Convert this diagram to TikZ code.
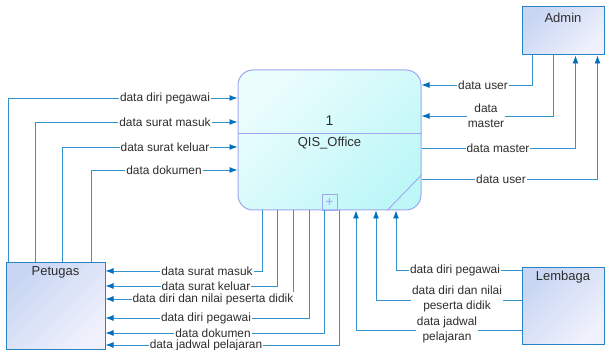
\documentclass[tikz,border=0pt]{standalone}
\usepackage{fontspec}
\setmainfont{Liberation Sans}
\usetikzlibrary{arrows.meta,calc}

\definecolor{flowblue}{RGB}{52,146,206}
\definecolor{tipblue}{RGB}{0,110,190}
\definecolor{textgray}{RGB}{45,45,45}
\definecolor{entborder}{RGB}{40,130,195}
\definecolor{entlight}{RGB}{200,214,243}
\definecolor{entpale}{RGB}{240,241,252}
\definecolor{procborder}{RGB}{160,166,242}
\definecolor{proclight}{RGB}{236,253,253}
\definecolor{procdark}{RGB}{190,247,248}

\tikzset{
	flow/.style={draw=flowblue, line width=0.9pt, -{Latex[length=8pt,width=6pt,color=tipblue]}},
	lbl/.style={fill=white, inner sep=1pt, text=textgray, align=center, font=\fontsize{11.9}{14.5}\selectfont},
	entity/.style={draw=entborder, line width=1pt, top color=entlight, bottom color=entpale, shading angle=45, inner sep=0pt},
	process/.style={draw=procborder, line width=1pt, rounded corners=15pt, top color=proclight, bottom color=procdark, shading angle=45, inner sep=0pt},
	procline/.style={draw=procborder, line width=0.9pt},
	bigtext/.style={text=textgray, inner sep=0pt, font=\fontsize{13}{15}\selectfont}
}

\begin{document}
\begin{tikzpicture}[x=1pt,y=-1pt]
			%%%%% START %%%%%
			\useasboundingbox (0,0) rectangle (606,350);
			
			% process
			\node[process, minimum width=183pt, minimum height=140pt] (proc) at (329.5,140) {};
			\draw[procline] (proc.west |- 0,133) -- (proc.east |- 0,133);
			\draw[procline] (proc.south -| 387,0) -- (proc.east |- 0,175);
			\node[bigtext, font=\fontsize{14}{16}\selectfont] (proc-id) at (329.5,121) {1};
			\node[bigtext] (proc-name) at (329.5,143) {QIS\_Office};
			\node[draw=procborder, line width=0.8pt, minimum width=15pt, minimum height=16pt, inner sep=0pt, text=procborder, font=\fontsize{14}{14}\selectfont] (proc-plus) at (329.5,202) {+};
			
			% entities
			\node[entity, minimum width=82pt, minimum height=48pt] (admin) at (563,31) {};
			\node[bigtext] (admin-name) at (563,18) {Admin};
			\node[entity, minimum width=99pt, minimum height=86pt] (pet) at (55.5,306) {};
			\node[bigtext] (pet-name) at (55.5,272) {Petugas};
			\node[entity, minimum width=82pt, minimum height=76pt] (lem) at (563,306) {};
			\node[bigtext] (lem-name) at (563,277) {Lembaga};
			
			% admin
			\draw[flow] ([xshift=11pt]admin.south west) |- (proc.east |- 0,85);
			\draw[flow] ([xshift=32pt]admin.south west) |- (proc.east |- 0,116);
			\draw[flow] (proc.east |- 0,148) -| ([xshift=54pt]admin.south west);
			\draw[flow] (proc.east |- 0,179) -| ([xshift=76pt]admin.south west);
			\node[lbl] (a1) at (483,85) {data user};
			\node[lbl] (a2) at (486,115.5) {data\\master};
			\node[lbl] (a3) at (498,148) {data master};
			\node[lbl] (a4) at (501,179) {data user};
			
			% petugas -> process
			\draw[flow] ([xshift=3pt]pet.north west) |- (proc.west |- 0,98);
			\draw[flow] ([xshift=30pt]pet.north west) |- (proc.west |- 0,122);
			\draw[flow] ([xshift=57pt]pet.north west) |- (proc.west |- 0,147);
			\draw[flow] ([xshift=86pt]pet.north west) |- (proc.west |- 0,170);
			\node[lbl] (p1) at (165,98) {data diri pegawai};
			\node[lbl] (p2) at (165,122) {data surat masuk};
			\node[lbl] (p3) at (165,147) {data surat keluar};
			\node[lbl] (p4) at (164,170) {data dokumen};
			
			% process -> petugas
			\draw[flow] (proc.south -| 262,0) |- (pet.east |- 0,271);
			\draw[flow] (proc.south -| 277,0) |- (pet.east |- 0,286);
			\draw[flow] (proc.south -| 293,0) |- (pet.east |- 0,299);
			\draw[flow] (proc.south -| 309,0) |- (pet.east |- 0,318);
			\draw[flow] (proc.south -| 324,0) |- (pet.east |- 0,333);
			\draw[flow] (proc.south -| 339,0) |- (pet.east |- 0,345);
			\node[lbl] (b1) at (207,271) {data surat masuk};
			\node[lbl] (b2) at (206,286) {data surat keluar};
			\node[lbl] (b3) at (213,299) {data diri dan nilai peserta didik};
			\node[lbl] (b4) at (206,318) {data diri pegawai};
			\node[lbl] (b5) at (213,333) {data dokumen};
			\node[lbl] (b6) at (206,345) {data jadwal pelajaran};
			
			% lembaga
			\draw[flow] (lem.west |- 0,270) -| (proc.south -| 396,0);
			\draw[flow] (lem.west |- 0,300) -| (proc.south -| 376,0);
			\draw[flow] (lem.west |- 0,330) -| (proc.south -| 356,0);
			\node[lbl] (l1) at (455,270) {data diri pegawai};
			\node[lbl] (l2) at (457,299) {data diri dan nilai\\peserta didik};
			\node[lbl] (l3) at (447,330) {data jadwal\\pelajaran};
			
			%%%%% END %%%%%
\end{tikzpicture}
\end{document}
